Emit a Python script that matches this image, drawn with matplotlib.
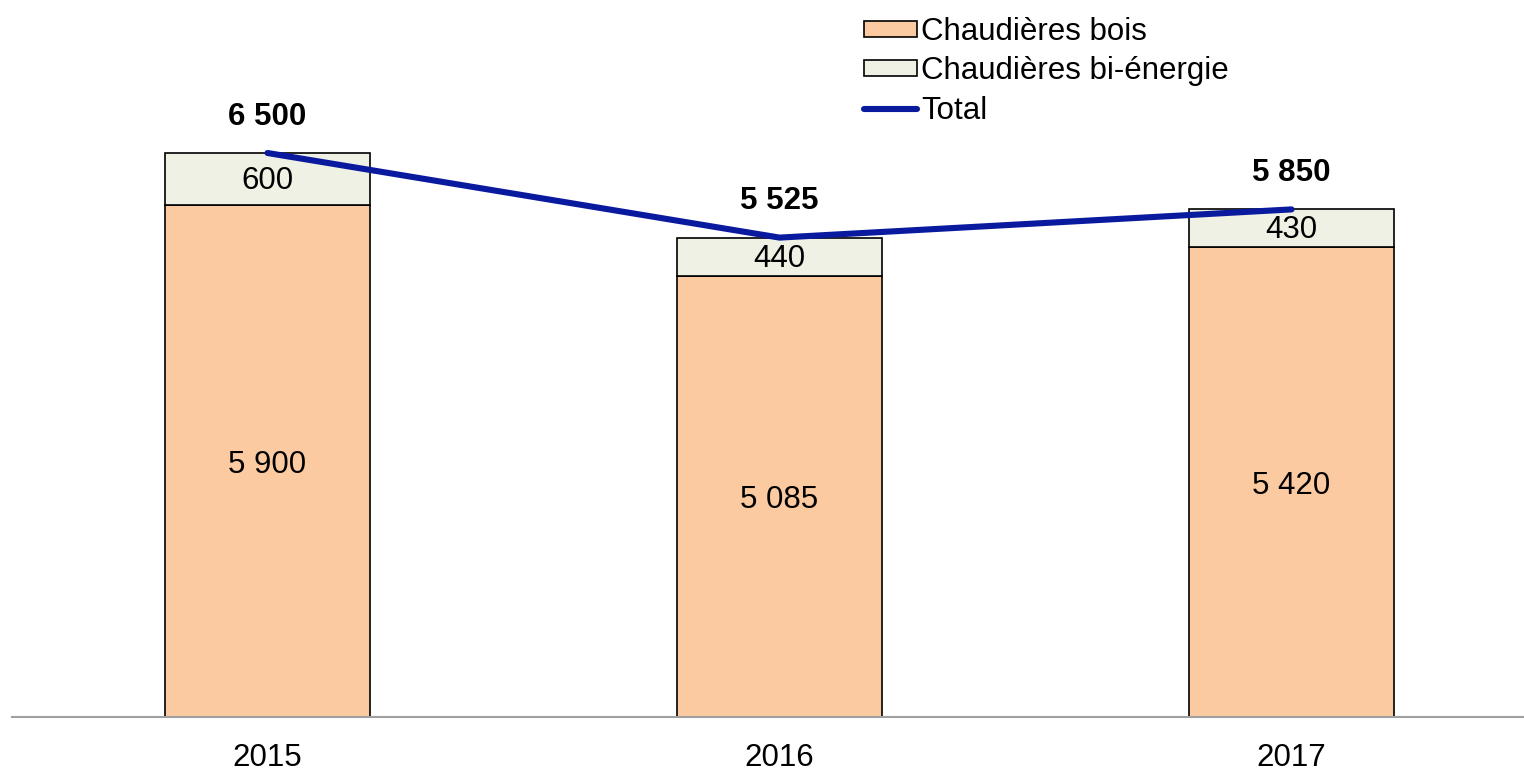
"""Ventes de chaudières bois et bi-énergie, 2015-2017."""

import matplotlib.pyplot as plt
import numpy as np

plt.rcParams["font.family"] = ["Liberation Sans", "DejaVu Sans"]

years = ["2015", "2016", "2017"]
bois = [5900, 5085, 5420]
bi_energie = [600, 440, 430]
total = [6500, 5525, 5850]

COLOR_BOIS = "#fbcaa0"
COLOR_BI = "#eef1e3"
COLOR_TOTAL = "#0a1a9e"


def fmt(v: int) -> str:
    return f"{v:,}".replace(",", " ")


def main() -> None:
    fig = plt.figure(figsize=(15.24, 7.73), dpi=100)
    ax = fig.add_axes([12 / 1524, 56 / 773, 1512 / 1524, 0.898])
    x = np.arange(len(years))

    h_bois = ax.bar(x, bois, width=0.4, color=COLOR_BOIS, edgecolor="black",
                    linewidth=1.2, label="Chaudières bois", zorder=2)
    h_bi = ax.bar(x, bi_energie, width=0.4, bottom=bois, color=COLOR_BI,
                  edgecolor="black", linewidth=1.2,
                  label="Chaudières bi-énergie", zorder=2)
    (h_tot,) = ax.plot(x, total, color=COLOR_TOTAL, linewidth=4.4,
                       solid_capstyle="round", label="Total", zorder=3)

    # small downward nudge so digits sit like in the source chart
    nudge = 45
    for xi, b, e, t in zip(x, bois, bi_energie, total):
        ax.text(xi, b / 2 - nudge, fmt(b), ha="center", va="center",
                fontsize=22.5)
        ax.text(xi, b + e / 2 - nudge / 2, fmt(e), ha="center", va="center",
                fontsize=22.5)
        ax.text(xi, t + 245, fmt(t), ha="center", va="bottom", fontsize=22.5,
                fontweight="bold")

    ax.set_xlim(-0.499, 2.454)
    ax.set_ylim(0, 8000)
    ax.set_xticks(x)
    ax.set_xticklabels(years, fontsize=22.5)
    ax.tick_params(axis="x", length=0, pad=19)
    ax.set_yticks([])
    for side in ("top", "right", "left"):
        ax.spines[side].set_visible(False)
    ax.spines["bottom"].set_color("#a0a0a0")
    ax.spines["bottom"].set_linewidth(1.5)

    ax.legend(handles=[h_bois, h_bi, h_tot], loc="upper left",
              bbox_to_anchor=(0.549, 1.04), frameon=False,
              fontsize=22.5, handlelength=1.7, handleheight=0.4,
              handletextpad=0.12, labelspacing=0.3, borderpad=0.2)

    fig.savefig("out.png", dpi=100)
    plt.close(fig)


if __name__ == "__main__":
    main()
